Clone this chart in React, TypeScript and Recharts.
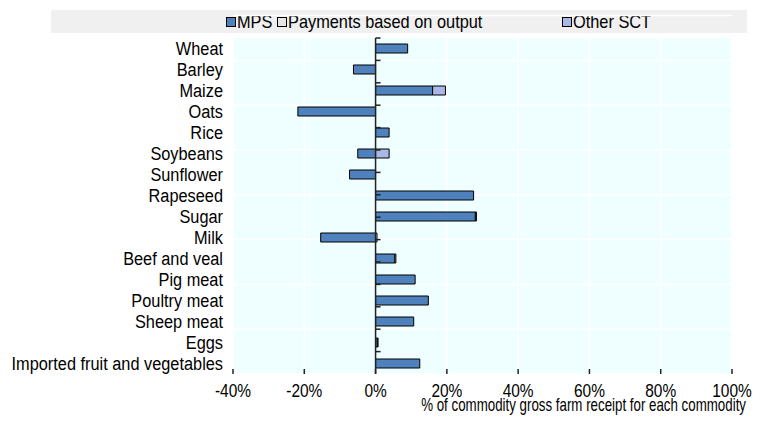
import { BarChart, Bar, XAxis, YAxis, CartesianGrid, ReferenceLine, ReferenceArea } from 'recharts';

const categories = [
  'Wheat', 'Barley', 'Maize', 'Oats', 'Rice', 'Soybeans', 'Sunflower', 'Rapeseed',
  'Sugar', 'Milk', 'Beef and veal', 'Pig meat', 'Poultry meat', 'Sheep meat', 'Eggs',
  'Imported fruit and vegetables',
];
const mps = [9.0, -6.2, 16.0, -21.8, 3.8, -5.0, -7.3, 27.5, 28.0, -15.4, 5.4, 11.1, 14.8, 10.7, 0.5, 12.4];
const outputPayments = [0, 0, 0, 0, 0, 0, 0, 0, 0.3, 0.4, 0.3, 0, 0, 0, 0.2, 0];
const otherSct = [0, 0, 3.6, 0, 0, 3.8, 0, 0, 0, 0, 0, 0, 0, 0, 0, 0];
const xTicks = [-40, -20, 0, 20, 40, 60, 80, 100];

const series = [
  { key: 'mps', name: 'MPS', color: '#4f81bd', legendLeft: 175 },
  { key: 'output', name: 'Payments based on output', color: '#e6e6e6', legendLeft: 226 },
  { key: 'other', name: 'Other SCT', color: '#a9b8e6', legendLeft: 511 },
];

const data = categories.map((name, i) => ({
  name,
  mps: mps[i],
  output: outputPayments[i],
  other: otherSct[i],
}));

// row boundaries on a hidden numeric axis, for grid lines and the small ticks on the zero line
const boundaries = categories.map((_, i) => i).concat(categories.length);
const innerBoundaries = boundaries.slice(1, -1);

const font = '"Liberation Sans", Arial, sans-serif';
const squeeze = 0.86; // the original uses a narrow face

const NarrowText = ({ x, y, anchor, size, children, dy = 0, scale = squeeze }: any) => (
  <text
    transform={`translate(${x},${y}) scale(${scale},1)`}
    dy={dy}
    textAnchor={anchor}
    fill="#000"
    fontSize={size}
    fontFamily={font}
  >
    {children}
  </text>
);

const XTick = (props: any) => {
  const { x, y, payload } = props;
  const axisY = y - 16;
  return (
    <g>
      <line x1={x} x2={x} y1={axisY} y2={axisY - 5} stroke="#222" strokeWidth={1.5} />
      <NarrowText x={x} y={y} dy={7} anchor="middle" size={18}>
        {payload.value}%
      </NarrowText>
    </g>
  );
};

const YTick = (props: any) => {
  const { x, y, payload } = props;
  return (
    <NarrowText x={x} y={y} dy={6} anchor="end" size={19}>
      {payload.value}
    </NarrowText>
  );
};

const AxisTitle = (props: any) => {
  const { viewBox } = props;
  return (
    <NarrowText x={viewBox.x + viewBox.width + 14} y={viewBox.y + 37} anchor="end" size={18} scale={0.74}>
      % of commodity gross farm receipt for each commodity
    </NarrowText>
  );
};

export default function App() {
  return (
    <div style={{ position: 'relative', width: 755, height: 410, fontFamily: font }}>
      <div
        style={{
          position: 'absolute',
          left: 43,
          top: 2,
          width: 696,
          height: 23,
          background: '#f0f0f0',
          fontSize: 19,
        }}
      >
        {series.map((s) => (
          <div
            key={s.key}
            style={{
              position: 'absolute',
              left: s.legendLeft,
              top: 0,
              height: 23,
              display: 'flex',
              alignItems: 'center',
              whiteSpace: 'nowrap',
            }}
          >
            <span
              style={{
                display: 'inline-block',
                width: 8,
                height: 8,
                background: s.color,
                border: '1px solid #000',
                marginRight: 1,
              }}
            />
            <span style={{ display: 'inline-block', transform: `scaleX(${squeeze})`, transformOrigin: 'left center' }}>
              {s.name}
            </span>
          </div>
        ))}
      </div>
      <BarChart
        width={755}
        height={410}
        data={data}
        layout="vertical"
        stackOffset="sign"
        barSize={9}
        margin={{ top: 30, right: 31, bottom: 14, left: 0 }}
      >
        <CartesianGrid
          yAxisId="n"
          stroke="#ffffff"
          strokeWidth={1.5}
          fill="#effefe"
          verticalValues={xTicks}
          horizontalValues={boundaries}
        />
        <XAxis
          type="number"
          domain={[-40, 100]}
          ticks={xTicks}
          allowDataOverflow
          axisLine={false}
          tickLine={false}
          tickSize={0}
          tickMargin={16}
          height={30}
          tick={<XTick />}
          interval={0}
          label={<AxisTitle />}
        />
        <YAxis
          type="category"
          dataKey="name"
          width={225}
          axisLine={false}
          tickLine={false}
          tickSize={0}
          tickMargin={10}
          interval={0}
          tick={<YTick />}
        />
        <YAxis yAxisId="n" type="number" domain={[0, categories.length]} hide reversed />
        {series.map((s) => (
          <Bar
            key={s.key}
            dataKey={s.key}
            name={s.name}
            stackId="a"
            fill={s.color}
            stroke="#000"
            strokeWidth={1}
            isAnimationActive={false}
          />
        ))}
        <ReferenceLine x={0} stroke="#222" strokeWidth={1.5} />
        {innerBoundaries.map((b) => (
          <ReferenceLine
            key={b}
            yAxisId="n"
            segment={[{ x: 0, y: b }, { x: 1.4, y: b }]}
            stroke="#222"
            strokeWidth={1.5}
          />
        ))}
        <ReferenceArea
          yAxisId="n"
          x1={-40}
          x2={100}
          y1={0}
          y2={categories.length}
          fill="none"
          stroke="#111"
          strokeWidth={1.5}
        />
      </BarChart>
    </div>
  );
}
